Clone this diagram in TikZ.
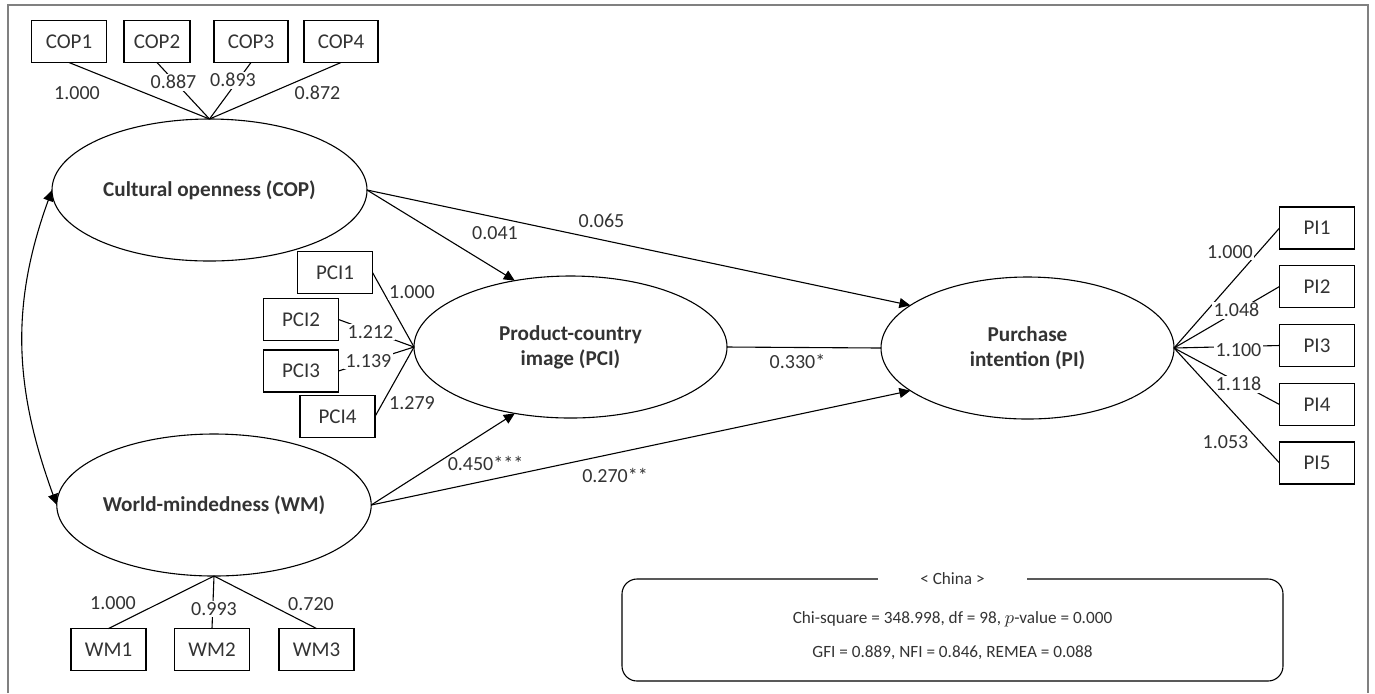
\documentclass[tikz,border=0pt]{standalone}
\usepackage{fontspec}
\setmainfont{Carlito}
\usepackage{tikz}
\usetikzlibrary{arrows.meta,shapes.geometric}
\definecolor{ink}{HTML}{333333}
\definecolor{frame}{HTML}{808080}
\tikzset{
  lat/.style={draw=black,ellipse,line width=0.55pt,inner sep=0pt,outer sep=0pt,minimum height=71pt,align=center,text=ink,font=\fontsize{10.6}{12.5}\selectfont\bfseries},
  obs/.style={draw=black,line width=0.55pt,inner sep=0pt,outer sep=0pt,minimum width=37.5pt,minimum height=21pt,text=ink,font=\fontsize{10.5}{11}\selectfont},
  ld/.style={fill=white,inner sep=0.8pt,text=ink,font=\fontsize{10}{11}\selectfont},
  lb/.style={inner sep=0.8pt,text=ink,font=\fontsize{10}{11}\selectfont},
  st/.style={inner sep=0.8pt,text=ink,font=\fontsize{8.6}{10}\selectfont},
  ln/.style={draw=black,line width=0.55pt},
  fl/.style={-{Triangle[length=5.5pt,width=5pt]},draw=black,line width=0.55pt},
}

\begin{document}
\begin{tikzpicture}[x=0.5pt,y=0.5pt]
\useasboundingbox (0,0) rectangle (1375,-693);
\draw[frame,line width=0.75pt] (8,-693) -- (8,-5) -- (1368,-5) -- (1368,-693);

% latent variables
\node[lat,minimum width=157.5pt] (COP) at (209.5,-190) {Cultural openness (COP)};
\node[lat,minimum width=156.5pt] (PCI) at (570.5,-347) {Product-country\\image (PCI)};
\node[lat,minimum width=146.5pt] (PI) at (1027.5,-348) {Purchase\\intention (PI)};
\node[lat,minimum width=157pt] (WM) at (214,-505) {World-mindedness (WM)};

% indicators and loadings
\foreach \n/\x/\w/\v/\lx/\ly in {1/69/37.5/1.000/77/93, 2/157/33/0.887/173.5/82,
  3/251/37/0.893/233/80, 4/341/37/0.872/317.5/93} {
  \node[obs,minimum width=\w pt] (COP\n) at (\x,-41.5) {COP\n};
  \draw[ln] (COP\n.south) -- (COP.north);
  \node[ld] at (\lx,-\ly) {\v};
}
\foreach \n/\x/\y/\v/\lx/\ly in {1/335/272.5/1.000/412/292, 2/301/319.5/1.212/370.5/332,
  3/301/371/1.139/368.5/361, 4/337.5/416.5/1.279/412/403} {
  \node[obs] (PCI\n) at (\x,-\y) {PCI\n};
  \draw[ln] (PCI\n.east) -- (PCI.west);
  \node[ld] at (\lx,-\ly) {\v};
}
\foreach \n/\y/\v/\lx/\ly in {1/228/1.000/1230/252, 2/286.5/1.048/1236.5/310,
  3/345.5/1.100/1238.5/350, 4/404.5/1.118/1238.5/384, 5/463/1.053/1225.5/442} {
  \node[obs] (PI\n) at (1317,-\y) {PI\n};
  \draw[ln] (PI\n.west) -- (PI.east);
  \node[ld] at (\lx,-\ly) {\v};
}
\foreach \n/\x/\v/\lx/\ly in {1/108.5/1.000/113/603, 2/212/0.993/214/609, 3/316.5/0.720/311/604} {
  \node[obs] (WM\n) at (\x,-649.5) {WM\n};
  \draw[ln] (WM\n.north) -- (WM.south);
  \node[ld] at (\lx,-\ly) {\v};
}

% structural paths
\draw[fl] (COP.east) -- (PCI.130);
\draw[fl] (COP.east) -- (PI.160);
\draw[ln] (PCI.east) -- (PI.west);
\draw[fl] (WM.east) -- (PCI.230);
\draw[fl] (WM.east) -- (PI.200);
\draw[ln,{Triangle[length=5.5pt,width=5pt]}-{Triangle[length=5.5pt,width=5pt]}] (COP.west) to[out=250,in=110] (WM.west);
\node[lb] at (495,-233) {0.041};
\node[lb] at (601.5,-221) {0.065};
\node[lb] at (797.5,-361) {0.330*};
\node[lb] at (485.5,-463) {0.450***};
\node[lb] at (615,-475) {0.270**};

% fit indices
\node[draw=black,line width=0.55pt,rounded corners=7.5pt,minimum width=330.5pt,minimum height=51pt] (fitbox) at (952.5,-630) {};
\node[st,fill=white,inner xsep=21pt] (china) at (fitbox.north) {< China >};
\node[st] (stat1) at (952.5,-619) {Chi-square = 348.998, df = 98, $p$-value = 0.000};
\node[st] (stat2) at (952.5,-653) {GFI = 0.889, NFI = 0.846, REMEA = 0.088};
\end{tikzpicture}
\end{document}
